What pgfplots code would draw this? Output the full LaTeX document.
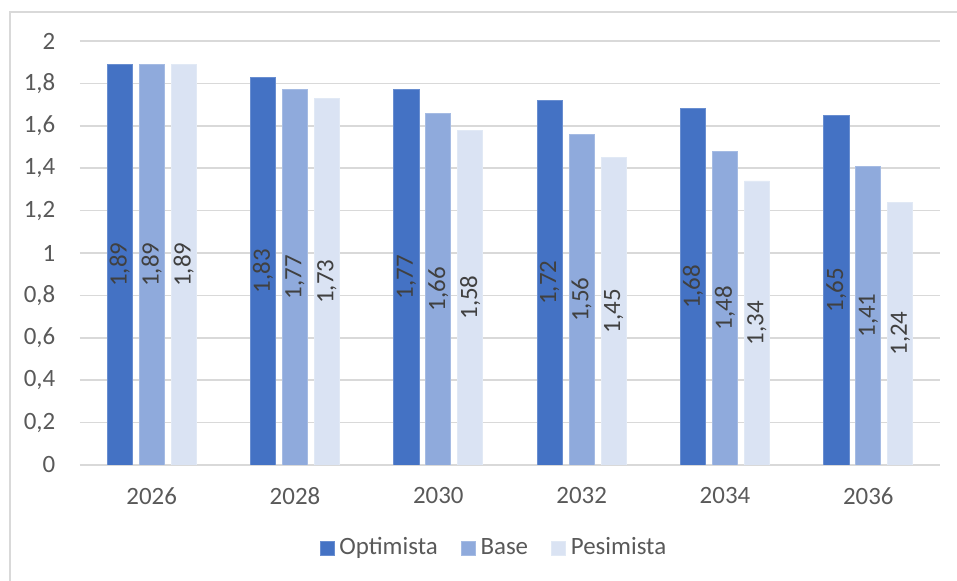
\documentclass[border=0pt]{standalone}
\usepackage{fontspec}
\setmainfont{Carlito}
\usepackage{pgfplots}
\pgfplotsset{compat=1.18}

\definecolor{optC}{HTML}{4472C4}
\definecolor{baseC}{HTML}{8FAADC}
\definecolor{pesC}{HTML}{DAE3F3}
\definecolor{gridC}{HTML}{D9D9D9}
\definecolor{tickC}{HTML}{595959}
\definecolor{lblC}{HTML}{404040}

\begin{document}
\fontsize{12.5}{15}\selectfont
\begin{tikzpicture}
\useasboundingbox (-40bp,-58bp) rectangle (438.5bp,232.5bp);
\draw[gridC, line width=0.8pt] (-35bp,-58bp) -- (-35bp,226.5bp) -- (438.5bp,226.5bp);
\begin{axis}[
  at={(0,0)}, anchor=south west,
  scale only axis,
  width=430bp, height=212bp,
  ybar,
  ymin=0, ymax=2,
  ytick={0,0.2,...,2.01},
  xmin=-0.5, xmax=5.5,
  xtick=data,
  xticklabels={2026,2028,2030,2032,2034,2036},
  bar width=0.175,
  axis x line*=bottom,
  axis y line*=left,
  x axis line style={draw=gridC, line width=0.8pt},
  y axis line style={draw=none},
  major tick length=0pt,
  ymajorgrids,
  grid style={draw=gridC, line width=0.8pt},
  tick label style={text=tickC},
  /pgf/number format/use comma,
  /pgf/number format/assume math mode=true,
  yticklabel style={anchor=east, xshift=-8bp},
  xticklabel style={yshift=-7bp},
  nodes near coords={\pgfmathprintnumber[fixed,fixed zerofill,precision=2,use comma,assume math mode=true]{\pgfplotspointmeta}},
  visualization depends on={y \as \rawy},
  every node near coord/.append style={shift={(axis direction cs:0,-\rawy/2)}, rotate=90, anchor=center, text=lblC},
  legend style={draw=none, fill=none, legend columns=3,
    at={(0.483,-0.196)}, anchor=center,
    /tikz/every even column/.append style={column sep=9bp},
    nodes={inner xsep=2.5bp},
    text=tickC},
  legend image code/.code={\fill[#1] (0bp,-3.5bp) rectangle (7bp,3.5bp);},
]
\addplot[fill=optC, draw=optC!80!white, bar shift=-0.223] coordinates {
  (0,1.89) (1,1.83) (2,1.77) (3,1.72) (4,1.68) (5,1.65)
};
\addplot[fill=baseC, draw=baseC!80!white, bar shift=0] coordinates {
  (0,1.89) (1,1.77) (2,1.66) (3,1.56) (4,1.48) (5,1.41)
};
\addplot[fill=pesC, draw=pesC!80!white, bar shift=0.223] coordinates {
  (0,1.89) (1,1.73) (2,1.58) (3,1.45) (4,1.34) (5,1.24)
};
\legend{Optimista,Base,Pesimista}
\end{axis}
\end{tikzpicture}
\end{document}
